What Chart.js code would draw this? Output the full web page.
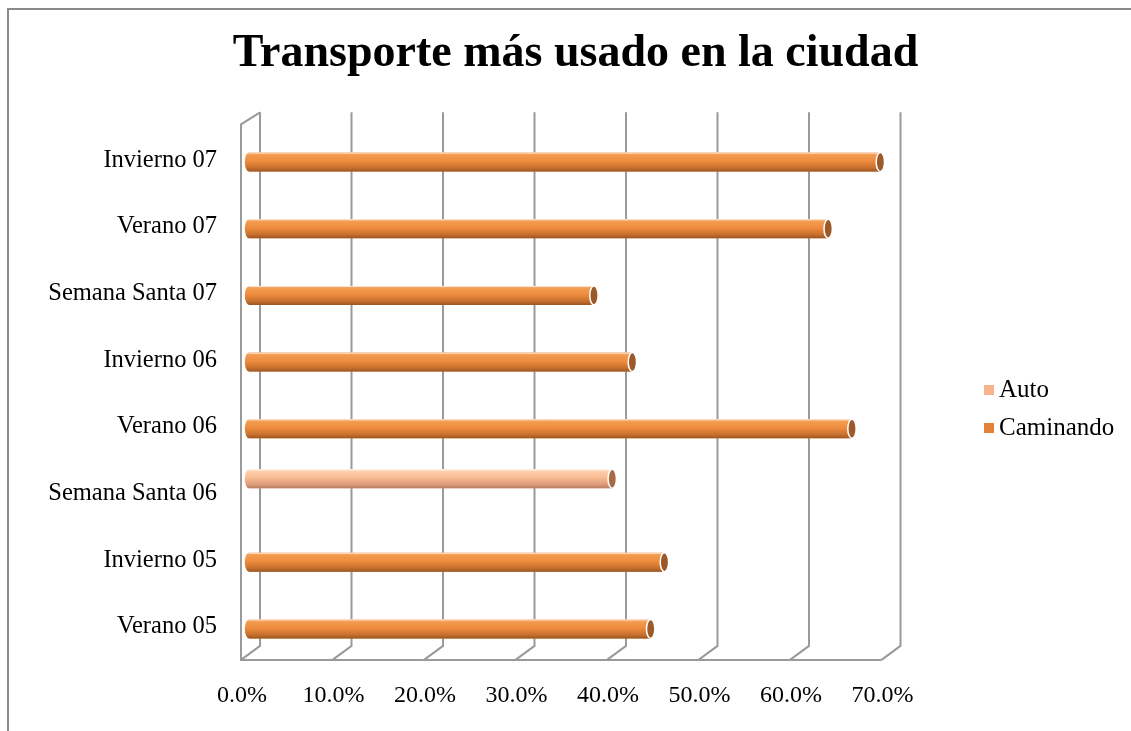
<!DOCTYPE html>
<html><head><meta charset="utf-8">
<script src="https://cdn.jsdelivr.net/npm/chart.js@4"></script>
<style>
html,body{margin:0;padding:0;background:#fff;}
#wrap{position:relative;width:1131px;height:731px;overflow:hidden;background:#fff;}
#frame{position:absolute;left:7px;top:8px;width:1200px;height:800px;border-left:2px solid #8a8a8a;border-top:2px solid #8a8a8a;pointer-events:none;}
canvas{position:absolute;left:0;top:0;}
</style></head><body>
<div id="wrap"><canvas id="c" width="1131" height="731"></canvas><div id="frame"></div></div>
<script>
const titleText = 'Transporte más usado en la ciudad';
const categories = ['Invierno 07','Verano 07','Semana Santa 07','Invierno 06','Verano 06','Semana Santa 06','Invierno 05','Verano 05'];
const autoValues = [null,null,null,null,null,39.7,null,null];
const caminandoValues = [69.0,63.3,37.7,41.9,65.9,null,45.4,43.9];
const xTickValues = [0,10,20,30,40,50,60,70];
const xTickLabels = ['0.0%','10.0%','20.0%','30.0%','40.0%','50.0%','60.0%','70.0%'];

const FONT = "'Liberation Serif', 'Times New Roman', serif";
const palettes = {
  'Auto': {hi:'#FFE6D2', light:'#FDCDAA', mid:'#F9BA93', dark:'#DC9A78', edge:'#B47C62', cap:'#A86A42'},
  'Caminando': {hi:'#F8BC8A', light:'#F39C50', mid:'#EE8C3E', dark:'#C8712F', edge:'#9C5622', cap:'#9C5A28'}
};

function drawCylinder(ctx, x0, x1, yc, h, pal){
  const top = yc - h/2, bot = yc + h/2, rx = Math.max(3, h*0.22);
  const g = ctx.createLinearGradient(0, top, 0, bot);
  g.addColorStop(0, pal.hi); g.addColorStop(0.12, pal.light); g.addColorStop(0.45, pal.mid);
  g.addColorStop(0.8, pal.dark); g.addColorStop(1, pal.edge);
  ctx.save();
  ctx.fillStyle = g;
  ctx.beginPath();
  ctx.moveTo(x1, top);
  ctx.lineTo(x0, top);
  ctx.ellipse(x0, yc, rx, h/2, 0, -Math.PI/2, Math.PI/2, true);
  ctx.lineTo(x1, bot);
  ctx.closePath();
  ctx.fill();
  ctx.strokeStyle = 'rgba(255,255,255,0.7)'; ctx.lineWidth = 1;
  ctx.beginPath(); ctx.moveTo(x0, top+0.5); ctx.lineTo(x1, top+0.5); ctx.stroke();
  ctx.beginPath();
  ctx.ellipse(x1, yc, rx, h/2, 0, 0, Math.PI*2);
  ctx.fillStyle = pal.cap; ctx.fill();
  ctx.lineWidth = 1.5; ctx.strokeStyle = '#fff'; ctx.stroke();
  ctx.restore();
}

const wallsPlugin = {
  id: 'walls',
  beforeDatasetsDraw(chart){
    const {ctx, chartArea: a, scales: {x}} = chart;
    const back = 11, front = -8, topY = a.top - 8, backBot = a.bottom - 8, frontBot = a.bottom + 6;
    ctx.save();
    ctx.strokeStyle = '#9a9a9a'; ctx.lineWidth = 2;
    xTickValues.forEach(v => {
      const px = x.getPixelForValue(v);
      ctx.beginPath(); ctx.moveTo(px+back, topY); ctx.lineTo(px+back, backBot); ctx.lineTo(px+front, frontBot); ctx.stroke();
    });
    const x0 = x.getPixelForValue(xTickValues[0]), xN = x.getPixelForValue(xTickValues[xTickValues.length-1]);
    ctx.beginPath();
    ctx.moveTo(x0+back, topY); ctx.lineTo(x0+front, topY+12); ctx.lineTo(x0+front, frontBot); ctx.lineTo(xN+front, frontBot);
    ctx.stroke();
    ctx.restore();
  }
};

const cylinderPlugin = {
  id: 'cylinders',
  afterDatasetsDraw(chart){
    const ctx = chart.ctx;
    chart.data.datasets.forEach((ds, i) => {
      const meta = chart.getDatasetMeta(i);
      if (meta.hidden) return;
      meta.data.forEach((el, j) => {
        if (ds.data[j] === null || ds.data[j] === undefined) return;
        drawCylinder(ctx, el.base, el.x, el.y, el.height, palettes[ds.label]);
      });
    });
  }
};

const legendPlugin = {
  id: 'customLegend',
  afterDraw(chart){
    const ctx = chart.ctx;
    ctx.save();
    ctx.font = '25px ' + FONT;
    ctx.textBaseline = 'middle';
    ctx.textAlign = 'left';
    chart.data.datasets.forEach((ds, i) => {
      const cy = 390 + i*38;
      ctx.fillStyle = ds.backgroundColor;
      ctx.fillRect(984, cy-5, 10, 10);
      ctx.fillStyle = '#000';
      ctx.fillText(ds.label, 999, cy);
    });
    ctx.restore();
  }
};

new Chart(document.getElementById('c'), {
  type: 'bar',
  data: {
    labels: categories,
    datasets: [
      {label: 'Auto', data: autoValues, backgroundColor: '#F9B48D', categoryPercentage: 0.5, barPercentage: 1.14},
      {label: 'Caminando', data: caminandoValues, backgroundColor: '#E2823A', categoryPercentage: 0.5, barPercentage: 1.14}
    ]
  },
  options: {
    indexAxis: 'y',
    responsive: false,
    animation: false,
    layout: {padding: {left: 20, right: 0, top: 0, bottom: 0}},
    plugins: {
      legend: {display: false},
      tooltip: {enabled: false},
      title: {
        display: true, text: titleText, color: '#000',
        font: {family: FONT, size: 46, weight: 'bold', lineHeight: 1.2},
        padding: {top: 26.4, bottom: 38.7}
      }
    },
    scales: {
      x: {
        type: 'linear', min: 0, max: 70,
        grid: {display: false, drawTicks: false},
        border: {display: false},
        afterBuildTicks: s => { s.ticks = xTickValues.map(v => ({value: v})); },
        afterFit: s => { s.height = 77.1; },
        ticks: {
          color: '#000', font: {family: FONT, size: 24}, padding: 27, labelOffset: -7,
          maxRotation: 0, autoSkip: false,
          callback: (v, i) => xTickLabels[i]
        }
      },
      y: {
        type: 'category',
        grid: {display: false, drawTicks: false},
        border: {display: false},
        afterFit: s => { s.width = 229; },
        ticks: {color: '#000', font: {family: FONT, size: 24.5}, padding: 32, labelOffset: 6.5, autoSkip: false}
      },
      yRight: {
        type: 'category', position: 'right', labels: categories,
        grid: {display: false, drawTicks: false},
        border: {display: false},
        ticks: {display: false},
        afterFit: s => { s.width = 241.5; }
      }
    }
  },
  plugins: [wallsPlugin, cylinderPlugin, legendPlugin]
});
</script>
</body></html>
